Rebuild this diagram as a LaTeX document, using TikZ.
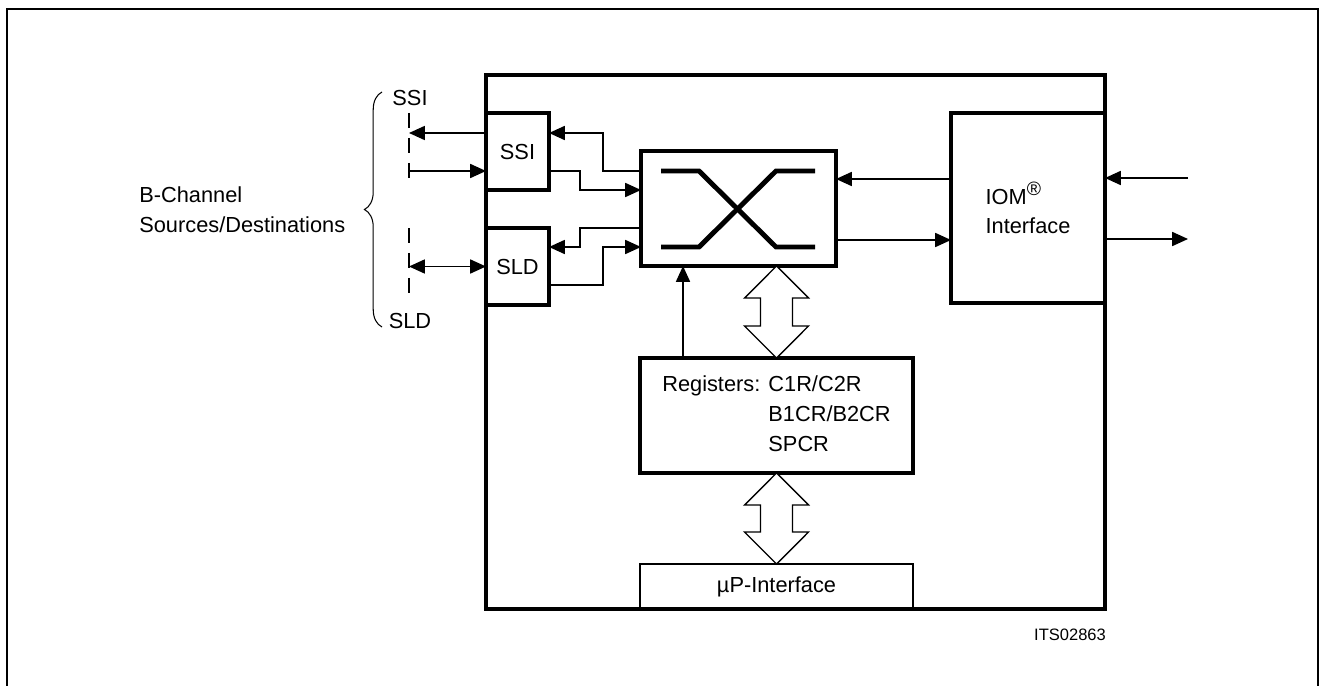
\documentclass[tikz,border=0pt]{standalone}
\usepackage{fontspec}
\setmainfont{Liberation Sans}
\usetikzlibrary{arrows.meta, calc, decorations.pathreplacing}

\begin{document}
\begin{tikzpicture}[
    x=0.02cm, y=-0.02cm,
    font=\fontsize{12.4}{17}\selectfont,
    block/.style={rectangle, draw, line width=1.8pt, outer sep=0pt, inner sep=0pt},
    lbl/.style={inner sep=0pt},
    sig/.style={-{Triangle[length=9pt, width=8pt]}, line width=0.8pt},
    sigboth/.style={{Triangle[length=9pt, width=8pt]}-{Triangle[length=9pt, width=8pt]}, line width=0.8pt},
    bus/.style={draw, fill=white, line width=0.8pt, line join=miter},
    chan/.style={line width=0.8pt, dash pattern=on 8.5pt off 5.7pt},
    cross/.style={line width=2.8pt}
]
\useasboundingbox (0,0) rectangle (1325,686);
% outer frame
\draw[line width=1.1pt] (7,686) -- (7,9) -- (1318,9) -- (1318,686);

\node[block, line width=2.2pt, minimum width=12.38cm, minimum height=10.68cm] (chip) at (795.5,342) {};
\node[block, minimum width=1.26cm, minimum height=1.54cm] (ssi) at (517.5,151.5) {SSI};
\node[block, minimum width=1.26cm, minimum height=1.54cm] (sld) at (517.5,266.5) {SLD};
\node[block, minimum width=3.9cm, minimum height=2.3cm] (switch) at (738.5,208.5) {};
\node[block, minimum width=3.08cm, minimum height=3.8cm, align=left] (iom) at (1028,208)
    {IOM\raisebox{0.75ex}{\fontsize{11}{11}\selectfont ®}\\Interface};
\node[block, line width=2.2pt, minimum width=5.46cm, minimum height=2.3cm] (regs) at (776.5,415.5)
    {\begin{tabular}{@{}l@{ }l@{}}Registers: & C1R/C2R\\ & B1CR/B2CR\\ & SPCR\end{tabular}};
\node[block, line width=1.1pt, minimum width=5.46cm, minimum height=0.9cm] (upif) at (776.5,586.5) {µP-Interface};

% channel side
\node[lbl] (lssi) at (410,98) {SSI};
\node[lbl] (lsld) at (410,321) {SLD};
\node[lbl, align=left, anchor=west] (bchan) at (139,210) {B-Channel\\Sources/Destinations};
\draw[decorate, decoration={brace, amplitude=10pt}, line width=0.6pt] (382,327) -- (382,92);

\coordinate (dtop) at (409,113);
\coordinate (dmid1) at (409,182);
\coordinate (dmid2) at (409,228);
\coordinate (dbot) at (409,297);
\draw[chan] (dtop) -- (dmid1);
\draw[chan] (dmid2) -- (dbot);

\draw[sig] (ssi.west |- 0,133) -- (dtop |- 0,133);
\draw[sig] (dtop |- 0,171) -- (ssi.west |- 0,171);
\draw[sigboth] (sld.west) -- (dbot |- sld.west);

% serial ports to switch
\draw[sig] (switch.west |- 0,171) -| (603,133) -- (ssi.east |- 0,133);
\draw[sig] (ssi.east |- 0,171) -| (580,190) -- (switch.west |- 0,190);
\draw[sig] (switch.west |- 0,228) -| (580,247) -- (sld.east |- 0,247);
\draw[sig] (sld.east |- 0,285) -| (603,247) -- (switch.west |- 0,247);

% switch symbol
\draw[cross] ($(switch.north west)+(20,20)$) -- ++(38,0) -- ++(77,76) -- ++(39,0);
\draw[cross] ($(switch.south west)+(20,-19)$) -- ++(38,0) -- ++(77,-76) -- ++(39,0);

% IOM side
\draw[sig] (iom.west |- 0,179) -- (switch.east |- 0,179);
\draw[sig] (switch.east |- 0,240) -- (iom.west |- 0,240);
\coordinate (ext) at (1188,208);
\draw[sig] (ext |- 0,178) -- (iom.east |- 0,178);
\draw[sig] (iom.east |- 0,239) -- (ext |- 0,239);

% control and buses
\draw[sig] (regs.north -| 683,0) -- (switch.south -| 683,0);
\draw[bus] (regs.north |- switch.south) -- ++(32,32) -- ++(-16,0) -- ++(0,28) -- ++(16,0) -- (regs.north)
    -- ++(-32,-32) -- ++(16,0) -- ++(0,-28) -- ++(-16,0) -- cycle;
\draw[bus] (regs.south) -- ++(32,32) -- ++(-16,0) -- ++(0,27) -- ++(16,0) -- (upif.north)
    -- ++(-32,-32) -- ++(16,0) -- ++(0,-27) -- ++(-16,0) -- cycle;

\node[lbl, font=\fontsize{9.4}{11}\selectfont] (code) at (1070,635) {ITS02863};
\end{tikzpicture}
\end{document}
